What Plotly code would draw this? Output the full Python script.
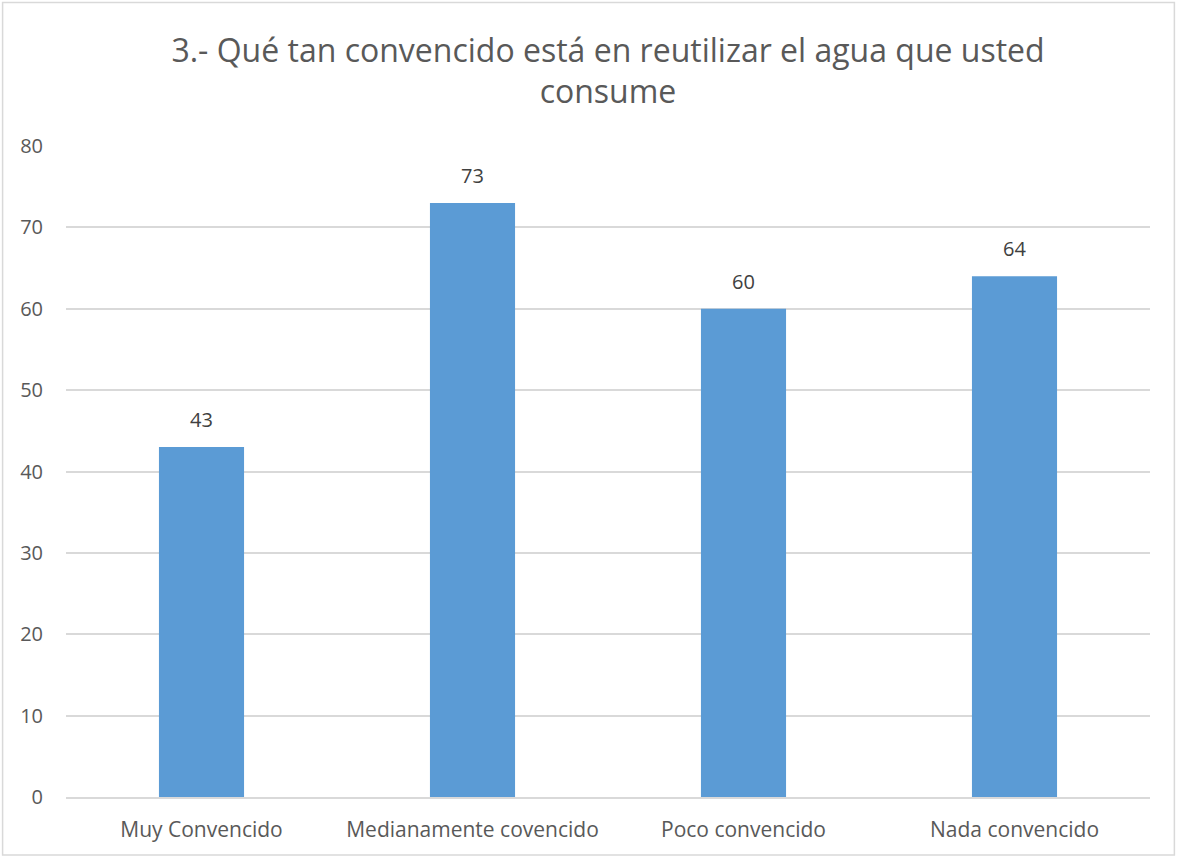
import plotly.graph_objects as go

categorias = ["Muy Convencido", "Medianamente covencido", "Poco convencido", "Nada convencido"]
valores = [43, 73, 60, 64]
titulo = "3.- Qué tan convencido está en reutilizar el agua que usted<br>consume"

gris = "#595959"
fuente = "'Open Sans', sans-serif"

fig = go.Figure()
fig.add_trace(go.Bar(x=categorias, y=valores, marker=dict(color="#5B9BD5", line=dict(width=0)),
                     hoverinfo="x+y"))

for c, v in zip(categorias, valores):
    fig.add_annotation(x=c, y=v, text=str(v), showarrow=False, yanchor="bottom", yshift=12,
                       font=dict(size=20, color="#404040", family=fuente))

# marco del gráfico
fig.add_shape(type="rect", xref="paper", yref="paper", x0=-0.0585, x1=1.0225, y0=-0.089, y1=1.2205,
              line=dict(color="#D9D9D9", width=1.5), layer="below")

fig.update_layout(
    width=1178, height=858,
    margin=dict(l=66, r=28, t=146, b=61),
    paper_bgcolor="white", plot_bgcolor="white",
    title=dict(text=titulo, x=0.5, xref="paper", y=0.928, yanchor="middle",
               font=dict(size=32, color=gris, family=fuente)),
    bargap=0.686,
    showlegend=False,
    font=dict(family=fuente, color=gris),
)
fig.update_xaxes(showgrid=False, showline=True, linecolor="#D9D9D9", linewidth=1.5,
                 ticks="", ticklabelstandoff=13, tickfont=dict(size=21, color=gris))
fig.update_yaxes(range=[0, 80], dtick=10, showgrid=True, gridcolor="#D9D9D9", gridwidth=1.5,
                 zeroline=False, showline=False, ticks="", ticklabelstandoff=22,
                 tickfont=dict(size=20, color=gris))

fig.write_html("out.html", config={"displayModeBar": False},
               post_script="document.body.style.margin='0';")
